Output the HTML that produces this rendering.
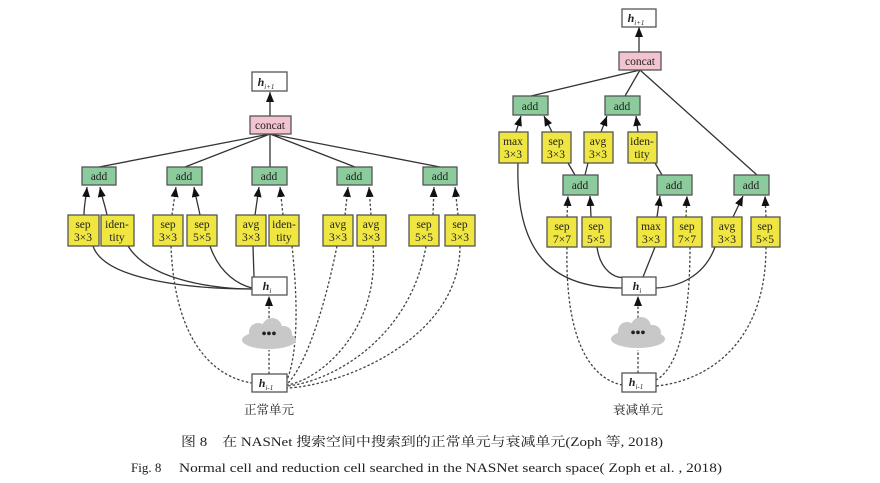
<!DOCTYPE html>
<html><head><meta charset="utf-8"><style>
html,body{margin:0;padding:0;background:#fff;width:880px;height:483px;overflow:hidden}
svg{display:block}
text{font-family:"Liberation Serif","Noto Serif CJK SC",serif;fill:#222}
.b{stroke:#555;stroke-width:1.3}
.y{fill:#f0e642}.g{fill:#8ccb9c}.p{fill:#f3c3cf}.w{fill:#fff}
.l{fill:none;stroke:#333;stroke-width:1.3}
.d{fill:none;stroke:#444;stroke-width:1.3;stroke-dasharray:2.5 2}
.t{font-size:11.5px;text-anchor:middle}
</style></head><body>
<svg width="880" height="483" viewBox="0 0 880 483">
<defs><marker id="a" markerWidth="10" markerHeight="8" refX="10" refY="4" orient="auto" markerUnits="userSpaceOnUse" viewBox="0 0 10 8"><path d="M0,0 L10,4 L0,8 Z" fill="#111"/></marker></defs>

<!-- LEFT CELL connectors -->
<g>
<path class="l" d="M270 116 L270 92" marker-end="url(#a)"/>
<path class="l" d="M270 134 L99 167 M270 134 L185 167 M270 134 L270 167 M270 134 L355 167 M270 134 L440 167"/>
<path class="l" d="M84 215 C84 205 86 198 87 187" marker-end="url(#a)"/>
<path class="l" d="M107 215 C105 205 102 198 100 187" marker-end="url(#a)"/>
<path class="d" d="M172 215 L176 187" marker-end="url(#a)"/>
<path class="l" d="M200 215 C198 205 196 198 194 187" marker-end="url(#a)"/>
<path class="l" d="M255 215 L259 187" marker-end="url(#a)"/>
<path class="d" d="M283 215 L280 187" marker-end="url(#a)"/>
<path class="d" d="M345 215 L348 187" marker-end="url(#a)"/>
<path class="d" d="M371 215 L369 187" marker-end="url(#a)"/>
<path class="d" d="M433 215 L434 187" marker-end="url(#a)"/>
<path class="d" d="M458 215 L455 187" marker-end="url(#a)"/>
<path class="l" d="M93 246 C105 282 200 289 252 289"/>
<path class="l" d="M128 246 C150 282 220 289 252 289"/>
<path class="l" d="M210 246 C220 275 240 285 252 288"/>
<path class="l" d="M253 246 L254 277"/>
<path class="d" d="M171 246 C175 350 220 378 252 383"/>
<path class="d" d="M292 246 C300 320 295 360 287 380"/>
<path class="d" d="M337 246 C320 330 300 372 287 384"/>
<path class="d" d="M373 246 C380 330 320 380 287 385"/>
<path class="d" d="M426 246 C410 340 330 382 287 386"/>
<path class="d" d="M460 246 C460 340 340 386 287 388"/>
<path class="d" d="M269 318 L269 296" marker-end="url(#a)"/>
<path class="d" d="M269 374 L269 350"/>
</g>
<rect class="b w" x="252" y="72" width="35" height="19"/>
<text x="266" y="86" font-size="12" font-weight="bold" font-style="italic" text-anchor="middle">h<tspan font-size="7" font-weight="normal" dy="3">i+1</tspan></text>
<rect class="b p" x="250" y="116" width="41" height="18"/><text class="t" x="270" y="129">concat</text>
<g>
<rect class="b g" x="82" y="167" width="34" height="18"/><text class="t" x="99" y="180">add</text>
<rect class="b g" x="167" y="167" width="35" height="18"/><text class="t" x="184" y="180">add</text>
<rect class="b g" x="252" y="167" width="35" height="18"/><text class="t" x="269" y="180">add</text>
<rect class="b g" x="337" y="167" width="35" height="18"/><text class="t" x="354" y="180">add</text>
<rect class="b g" x="423" y="167" width="34" height="18"/><text class="t" x="440" y="180">add</text>
</g>
<g>
<rect class="b y" x="68" y="215" width="31" height="31"/><text class="t" x="83" y="228">sep</text><text class="t" x="83" y="241">3×3</text>
<rect class="b y" x="101" y="215" width="33" height="31"/><text class="t" x="117" y="228">iden-</text><text class="t" x="117" y="241">tity</text>
<rect class="b y" x="153" y="215" width="30" height="31"/><text class="t" x="168" y="228">sep</text><text class="t" x="168" y="241">3×3</text>
<rect class="b y" x="187" y="215" width="30" height="31"/><text class="t" x="202" y="228">sep</text><text class="t" x="202" y="241">5×5</text>
<rect class="b y" x="236" y="215" width="30" height="31"/><text class="t" x="251" y="228">avg</text><text class="t" x="251" y="241">3×3</text>
<rect class="b y" x="269" y="215" width="30" height="31"/><text class="t" x="284" y="228">iden-</text><text class="t" x="284" y="241">tity</text>
<rect class="b y" x="323" y="215" width="30" height="31"/><text class="t" x="338" y="228">avg</text><text class="t" x="338" y="241">3×3</text>
<rect class="b y" x="357" y="215" width="29" height="31"/><text class="t" x="371" y="228">avg</text><text class="t" x="371" y="241">3×3</text>
<rect class="b y" x="409" y="215" width="30" height="31"/><text class="t" x="424" y="228">sep</text><text class="t" x="424" y="241">5×5</text>
<rect class="b y" x="445" y="215" width="30" height="31"/><text class="t" x="460" y="228">sep</text><text class="t" x="460" y="241">3×3</text>
</g>
<rect class="b w" x="252" y="277" width="35" height="18"/>
<text x="267" y="290" font-size="12" font-weight="bold" font-style="italic" text-anchor="middle">h<tspan font-size="7" font-weight="normal" dy="3">i</tspan></text>
<g fill="#c8c8c8"><ellipse cx="269" cy="340" rx="27" ry="9"/><circle cx="258" cy="332" r="9"/><circle cx="272" cy="328" r="10"/><circle cx="284" cy="334" r="8"/></g>
<text x="269" y="338" font-size="14" font-weight="bold" text-anchor="middle">•••</text>
<rect class="b w" x="252" y="374" width="35" height="18"/>
<text x="266" y="387" font-size="12" font-weight="bold" font-style="italic" text-anchor="middle">h<tspan font-size="7" font-weight="normal" dy="3">i-1</tspan></text>
<text x="269" y="414" font-size="12.5" text-anchor="middle">正常单元</text>

<!-- RIGHT CELL connectors -->
<g>
<path class="l" d="M639 52 L639 27" marker-end="url(#a)"/>
<path class="l" d="M640 70 L531 96 M640 70 L625 96 M640 70 L757 175"/>
<path class="l" d="M516 132 L521 116" marker-end="url(#a)"/>
<path class="l" d="M552 132 L544 116" marker-end="url(#a)"/>
<path class="l" d="M601 132 L607 116" marker-end="url(#a)"/>
<path class="l" d="M638 132 L636 116" marker-end="url(#a)"/>
<path class="l" d="M568 163 L575 175 M588 163 L585 175 M655 163 L662 175"/>
<path class="d" d="M567 217 L568 196" marker-end="url(#a)"/>
<path class="l" d="M591 217 L590 196" marker-end="url(#a)"/>
<path class="l" d="M657 217 L660 196" marker-end="url(#a)"/>
<path class="d" d="M686 217 L687 196" marker-end="url(#a)"/>
<path class="l" d="M733 217 L743 196" marker-end="url(#a)"/>
<path class="d" d="M766 217 L765 196" marker-end="url(#a)"/>
<path class="l" d="M518 163 C515 262 560 288 622 288"/>
<path class="l" d="M597 247 C600 270 615 280 627 277"/>
<path class="l" d="M655 247 L643 277"/>
<path class="l" d="M715 247 C705 275 680 287 656 288"/>
<path class="d" d="M567 247 C565 340 590 378 622 385"/>
<path class="d" d="M690 247 C690 330 675 370 656 380"/>
<path class="d" d="M766 247 C766 350 700 382 656 386"/>
<path class="d" d="M638 318 L638 296" marker-end="url(#a)"/>
<path class="d" d="M638 373 L638 350"/>
</g>
<rect class="b w" x="622" y="9" width="34" height="18"/>
<text x="636" y="22" font-size="12" font-weight="bold" font-style="italic" text-anchor="middle">h<tspan font-size="7" font-weight="normal" dy="3">i+1</tspan></text>
<rect class="b p" x="619" y="52" width="42" height="18"/><text class="t" x="640" y="65">concat</text>
<rect class="b g" x="513" y="96" width="35" height="19"/><text class="t" x="530" y="110">add</text>
<rect class="b g" x="605" y="96" width="35" height="19"/><text class="t" x="622" y="110">add</text>
<rect class="b y" x="499" y="132" width="29" height="31"/><text class="t" x="513" y="145">max</text><text class="t" x="513" y="158">3×3</text>
<rect class="b y" x="542" y="132" width="29" height="31"/><text class="t" x="556" y="145">sep</text><text class="t" x="556" y="158">3×3</text>
<rect class="b y" x="584" y="132" width="29" height="31"/><text class="t" x="598" y="145">avg</text><text class="t" x="598" y="158">3×3</text>
<rect class="b y" x="628" y="132" width="29" height="31"/><text class="t" x="642" y="145">iden-</text><text class="t" x="642" y="158">tity</text>
<rect class="b g" x="563" y="175" width="35" height="20"/><text class="t" x="580" y="189">add</text>
<rect class="b g" x="657" y="175" width="35" height="20"/><text class="t" x="674" y="189">add</text>
<rect class="b g" x="734" y="175" width="35" height="20"/><text class="t" x="751" y="189">add</text>
<rect class="b y" x="547" y="217" width="30" height="30"/><text class="t" x="562" y="230">sep</text><text class="t" x="562" y="243">7×7</text>
<rect class="b y" x="582" y="217" width="29" height="30"/><text class="t" x="596" y="230">sep</text><text class="t" x="596" y="243">5×5</text>
<rect class="b y" x="637" y="217" width="29" height="30"/><text class="t" x="651" y="230">max</text><text class="t" x="651" y="243">3×3</text>
<rect class="b y" x="673" y="217" width="29" height="30"/><text class="t" x="687" y="230">sep</text><text class="t" x="687" y="243">7×7</text>
<rect class="b y" x="712" y="217" width="30" height="30"/><text class="t" x="727" y="230">avg</text><text class="t" x="727" y="243">3×3</text>
<rect class="b y" x="751" y="217" width="29" height="30"/><text class="t" x="765" y="230">sep</text><text class="t" x="765" y="243">5×5</text>
<rect class="b w" x="622" y="277" width="34" height="18"/>
<text x="637" y="290" font-size="12" font-weight="bold" font-style="italic" text-anchor="middle">h<tspan font-size="7" font-weight="normal" dy="3">i</tspan></text>
<g fill="#c8c8c8"><ellipse cx="638" cy="339" rx="27" ry="9"/><circle cx="627" cy="331" r="9"/><circle cx="641" cy="327" r="10"/><circle cx="653" cy="333" r="8"/></g>
<text x="638" y="337" font-size="14" font-weight="bold" text-anchor="middle">•••</text>
<rect class="b w" x="622" y="373" width="34" height="19"/>
<text x="636" y="386" font-size="12" font-weight="bold" font-style="italic" text-anchor="middle">h<tspan font-size="7" font-weight="normal" dy="3">i-1</tspan></text>
<text x="638" y="414" font-size="12.5" text-anchor="middle">衰减单元</text>

<!-- captions -->
<text x="181" y="446" font-size="13" textLength="482" lengthAdjust="spacingAndGlyphs">图 8　在 NASNet 搜索空间中搜索到的正常单元与衰减单元(Zoph 等, 2018)</text>
<text x="131" y="472" font-size="13">Fig. 8</text>
<text x="179" y="472" font-size="13" textLength="543" lengthAdjust="spacingAndGlyphs">Normal cell and reduction cell searched in the NASNet search space( Zoph et al. , 2018)</text>
</svg>
</body></html>
